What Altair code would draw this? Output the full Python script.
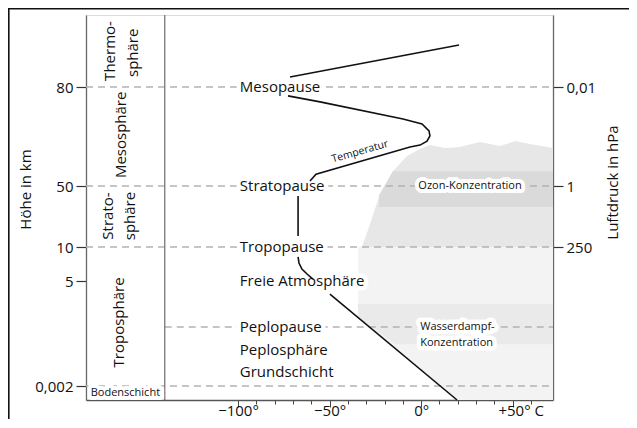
import altair as alt
import pandas as pd

# ---------------- data ----------------
# Temperature profile, visible segments (°C, km)
temp_segment = ["A"] * 2 + ["B"] * 5 + ["C"] * 2 + ["D"] * 11 + ["E"] * 2
temp_c = [19.6, -49.8,
          -59.1, -62.3, -65.1, -66.7, -67.2,
          -67.2, -67.2,
          -60.7, -57.4, -6.1, -0.6, 3.2, 4.8, 4.3, 0.5, -9.9, -55.2, -72.7,
          -71.6, 20.7]
temp_km = [0.0, 4.15,
           5.29, 6.03, 6.76, 7.65, 8.53,
           17.2, 43.4,
           51.5, 53.6, 61.8, 62.4, 63.6, 65.2, 66.7, 68.8, 70.3, 75.5, 77.3,
           85.6, 103.3]

# Ozone concentration region (°C extent, upper edge km, lower edge km)
ozone_t = [-32.3, -27.9, -22.5, -15.4, -7.7, -0.6, 4.8, 13.0, 21.2, 32.1, 43.1, 51.2, 59.4, 72]
ozone_top = [10, 25.1, 44.8, 54.5, 59.1, 61.2, 62.4, 61.5, 61.8, 63.3, 62.1, 63.6, 62.7, 61.5]
ozone_bottom = [10] * len(ozone_t)
ozone_band_t = [-23, -15.4, 72]
ozone_band_top = [44, 54.5, 54.5]
ozone_band_bottom = [36.2, 36.2, 36.2]

# Water vapour concentration region
wv_t = [-34.5, 19.6, 72]
wv_top = [10, 10, 10]
wv_bottom = [2.63, 0, 0]
wv_band_t = [-34.5, -14, 72]
wv_band_top = [3.5, 3.5, 3.5]
wv_band_bottom = [2.63, 1.42, 1.42]

# Boundary levels (km) drawn as dashed lines, and their start / end (°C)
level_km = [80, 50, 10, 2, 0.002]
level_start = [-183, -183, -183, -140, -183]
level_end = [72, 72, 72, 72, 72]

# Labels at boundary levels
main_labels = ["Mesopause", "Stratopause", "Tropopause", "Freie Atmosphäre",
               "Peplopause", "Peplosphäre", "Grundschicht"]
main_label_km = [80, 50, 10, 5, 2, 1.22, 0.48]
main_label_t = [-99] * len(main_labels)

# Layer names in the left column (one entry per text line)
layer_lines = ["Thermo-", "sphäre", "Mesosphäre", "Strato-", "sphäre", "Troposphäre"]
layer_line_km = [100, 99, 65.5, 30.3, 30.3, 2.3]
layer_line_t = [-169.9, -157.3, -163.9, -171.0, -159.0, -165.0]
column_divider_t = -140

# Axis ticks
x_tick_values = [-100, -90, -80, -70, -60, -50, -40, -30, -20, -10, 0, 10, 20, 30, 40, 50, 60]
x_tick_labeled = {-100: "−100°", -50: "−50°", 0: "0°", 50: "+50° C"}
height_ticks = [80, 50, 10, 5, 0.002]
height_labels = ["80", "50", "10", "5", "0,002"]
pressure_ticks = [80, 50, 10]
pressure_labels = ["0,01", "1", "250"]

# ---------------- layout / style ----------------
W, H = 467, 385
FONT = "Open Sans"
X_DOMAIN = [-183, 72]
Y_DOMAIN = [0, 0.002, 2, 5, 10, 50, 80, 120]
Y_RANGE = [385, 371, 312, 266, 232, 171, 72, 0]

xs = alt.Scale(domain=X_DOMAIN, nice=False, zero=False)
ys = alt.Scale(domain=Y_DOMAIN, range=Y_RANGE, nice=False, zero=False)


def label_expr(values, labels, default="''"):
    expr = default
    for v, l in zip(values, labels):
        expr = f"datum.value == {v} ? '{l}' : ({expr})"
    return expr


x_axis = alt.Axis(
    values=x_tick_values,
    labelExpr=label_expr(list(x_tick_labeled.keys()), list(x_tick_labeled.values())),
    title=None, grid=False,
    tickSize={"condition": {"test": "datum.value % 50 == 0", "value": 7}, "value": 4},
    tickColor="#444", tickWidth=1,
    domainColor="#555", domainWidth=1.3, labelFont=FONT, labelFontSize=15,
    labelColor="#111", labelPadding=-4, labelFlush=False, labelOverlap=False,
    labelOffset={"condition": {"test": "datum.value == 50", "value": 8}, "value": 0},
)


def X(field):
    return alt.X(field, type="quantitative", scale=xs, axis=x_axis)


def Y(field, axis=None):
    return alt.Y(field, type="quantitative", scale=ys, axis=axis)


left_axis = alt.Axis(
    orient="left", values=height_ticks,
    labelExpr=label_expr(height_ticks, height_labels),
    title="Höhe in km", titleFont=FONT, titleFontSize=15, titleFontWeight="normal",
    titleColor="#111", titleAngle=270, titleX=-61, titleY=174,
    titleAlign="center", titleBaseline="middle",
    grid=False, tickSize=10, tickColor="#333", tickWidth=1.2,
    domainColor="#666", domainWidth=1.3, labelFont=FONT, labelFontSize=15,
    labelColor="#111", labelPadding=3, labelOverlap=False,
)
right_axis = alt.Axis(
    orient="right", values=pressure_ticks,
    labelExpr=label_expr(pressure_ticks, pressure_labels),
    title="Luftdruck in hPa", titleFont=FONT, titleFontSize=15, titleFontWeight="normal",
    titleColor="#111", titleAngle=270, titleX=59, titleY=167,
    titleAlign="center", titleBaseline="middle",
    grid=False, tickSize=10, tickColor="#333", tickWidth=1.2,
    domainColor="#666", domainWidth=1.3, labelFont=FONT, labelFontSize=15,
    labelColor="#111", labelPadding=3, labelOverlap=False,
)

# ---------------- frames ----------------
df_temp = pd.DataFrame({"seg": temp_segment, "t": temp_c, "km": temp_km,
                        "i": list(range(len(temp_c)))})
df_oz = pd.DataFrame({"t": ozone_t, "top": ozone_top, "bot": ozone_bottom})
df_ozb = pd.DataFrame({"t": ozone_band_t, "top": ozone_band_top, "bot": ozone_band_bottom})
df_wv = pd.DataFrame({"t": wv_t, "top": wv_top, "bot": wv_bottom})
df_wvb = pd.DataFrame({"t": wv_band_t, "top": wv_band_top, "bot": wv_band_bottom})
df_lev = pd.DataFrame({"km": level_km, "t0": level_start, "t1": level_end})
df_main = pd.DataFrame({"label": main_labels, "km": main_label_km, "t": main_label_t})
df_layer = pd.DataFrame({"label": layer_lines, "km": layer_line_km, "t": layer_line_t})
df_div = pd.DataFrame({"t": [column_divider_t], "k0": [Y_DOMAIN[0]], "k1": [Y_DOMAIN[-1]]})
df_h = pd.DataFrame({"km": height_ticks})
df_p = pd.DataFrame({"km": pressure_ticks})
df_small = pd.DataFrame({
    "label": ["Bodenschicht", "Ozon-Konzentration"],
    "t": [-161.5, 26.7], "km": [0.001, 50],
})
df_wvlab = pd.DataFrame({"label": ["Wasserdampf-", "Konzentration"], "t": [-0.5, -0.5], "km": [2, 1.46]})
df_tlab = pd.DataFrame({"label": ["Temperatur"], "t": [-33.4], "km": [60.4]})
one = pd.DataFrame({"a": [0]})

# ---------------- layers ----------------
wv = alt.Chart(df_wv).mark_area(color="#f3f3f3").encode(x=X("t"), y=Y("top"), y2="bot")
wvb = alt.Chart(df_wvb).mark_area(color="#eaeaea").encode(x=X("t"), y=Y("top"), y2="bot")
oz = alt.Chart(df_oz).mark_area(color="#e7e7e7").encode(x=X("t"), y=Y("top"), y2="bot")
ozb = alt.Chart(df_ozb).mark_area(color="#dadada").encode(x=X("t"), y=Y("top"), y2="bot")

levels = alt.Chart(df_lev).mark_rule(color="#b3b3b3", strokeWidth=1.3, strokeDash=[7, 5]).encode(
    x=X("t0"), x2="t1", y=Y("km"))

divider = alt.Chart(df_div).mark_rule(color="#777", strokeWidth=1.3).encode(
    x=X("t"), y=Y("k0"), y2="k1")

axis_left = alt.Chart(df_h).mark_rule(opacity=0).encode(
    x=alt.value(0), x2=alt.value(1), y=Y("km", left_axis))
axis_right = alt.Chart(df_p).mark_rule(opacity=0).encode(
    x=alt.value(0), x2=alt.value(1), y=Y("km", right_axis))

halo_main = alt.Chart(df_main).mark_text(
    align="left", baseline="middle", font=FONT, fontSize=15, color="white",
    stroke="white", strokeWidth=9, strokeJoin="round").encode(x=X("t"), y=Y("km"), text="label")
text_main = alt.Chart(df_main).mark_text(
    align="left", baseline="middle", font=FONT, fontSize=15, color="#111").encode(
    x=X("t"), y=Y("km"), text="label")

halo_small = alt.Chart(df_small).mark_text(
    align="center", baseline="middle", font=FONT, fontSize=11, color="white",
    stroke="white", strokeWidth=8, strokeJoin="round").encode(x=X("t"), y=Y("km"), text="label")
text_small = alt.Chart(df_small).mark_text(
    align="center", baseline="middle", font=FONT, fontSize=11, color="#111").encode(
    x=X("t"), y=Y("km"), text="label")

halo_wv = alt.Chart(df_wvlab).mark_text(
    align="left", baseline="middle", font=FONT, fontSize=11, color="white",
    stroke="white", strokeWidth=9, strokeJoin="round").encode(x=X("t"), y=Y("km"), text="label")
text_wv = alt.Chart(df_wvlab).mark_text(
    align="left", baseline="middle", font=FONT, fontSize=11, color="#111").encode(
    x=X("t"), y=Y("km"), text="label")

text_layer = alt.Chart(df_layer).mark_text(
    align="center", baseline="middle", font=FONT, fontSize=15, color="#111",
    angle=270).encode(x=X("t"), y=Y("km"), text="label")

text_temp = alt.Chart(df_tlab).mark_text(
    align="center", baseline="middle", font=FONT, fontSize=10.5, color="#111",
    angle=344).encode(x=X("t"), y=Y("km"), text="label")

temp_line = alt.Chart(df_temp).mark_line(color="#111", strokeWidth=1.6).encode(
    x=X("t"), y=Y("km"), detail="seg", order="i")

frame_top = alt.Chart(one).mark_rule(color="#111", strokeWidth=1.6).encode(
    x=alt.value(-78), x2=alt.value(W + 76), y=alt.value(-6.2))
frame_left = alt.Chart(one).mark_rule(color="#111", strokeWidth=1.6).encode(
    x=alt.value(-77.2), y=alt.value(-7), y2=alt.value(H + 19))

chart = alt.layer(
    wv, wvb, oz, ozb, levels, divider, axis_left, axis_right,
    halo_main, halo_small, halo_wv, temp_line,
    text_main, text_small, text_wv, text_layer, text_temp,
    frame_top, frame_left,
).resolve_axis(y="independent").properties(
    width=W, height=H,
    autosize=alt.AutoSizeParams(type="none"),
    padding={"left": 78, "top": 7, "right": 76, "bottom": 19},
).configure_view(stroke=None).configure(background="white")

chart.save("out.html", embed_options={"renderer": "svg", "actions": False})
